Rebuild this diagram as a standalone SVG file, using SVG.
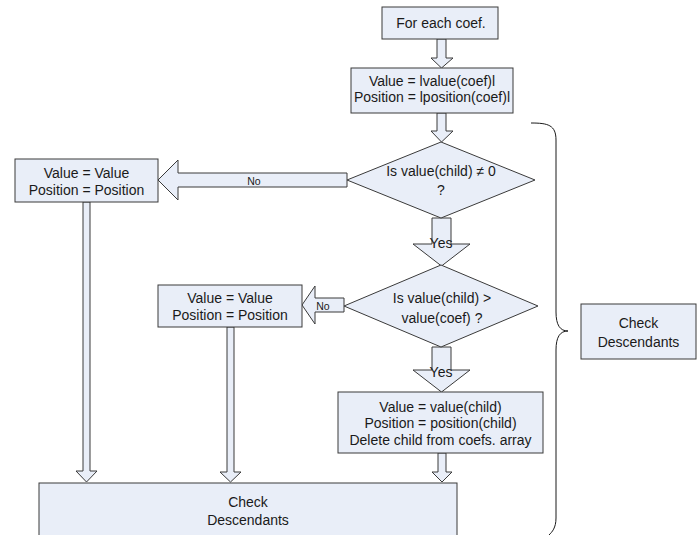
<svg xmlns="http://www.w3.org/2000/svg" width="699" height="535" viewBox="0 0 699 535">
<style>
.n{fill:#e9eef8;stroke:#3a3a3a;stroke-width:1}
.a{fill:#e9eef8;stroke:#3a3a3a;stroke-width:1;stroke-linejoin:miter}
text{font-family:"Liberation Sans",Arial,Helvetica,sans-serif;font-size:14px;fill:#1a1a1a;text-anchor:middle}
.s{font-size:10.5px}
.b{fill:none;stroke:#1a1a1a;stroke-width:1}
</style>
<rect width="699" height="535" fill="#ffffff"/>
<g id="connectors">
<polygon class="a" points="437,39 446,39 446,58 453,58 441.5,68 431,58 437,58"/>
<polygon class="a" points="437,113 446,113 446,131 453,131 441.5,142 431,131 437,131"/>
<polygon class="a" points="347,173 178,173 178,160 158,180 178,200 178,187 347,187"/>
<text class="s" x="254" y="185">No</text>
<polygon class="a" points="432,218 451,218 451,244 470,244 441.5,266 413,244 432,244"/>
<text x="441" y="248" font-size="13">Yes</text>
<polygon class="a" points="344,298 315,298 315,286 302,305 315,324 315,312 344,312"/>
<text class="s" x="323" y="310">No</text>
<polygon class="a" points="432,347 451,347 451,370 470,370 441.5,392 413,370 432,370"/>
<text x="441" y="377" font-size="13">Yes</text>
<polygon class="a" points="83,202 90,202 90,471 97,471 86.5,482 76,471 83,471"/>
<polygon class="a" points="227,327 234,327 234,472 241,472 230.5,482 220,472 227,472"/>
<polygon class="a" points="438,453 446,453 446,472 452,472 442,482 432,472 438,472"/>
</g>
<g id="start">
<rect class="n" x="382" y="7" width="116" height="32"/>
<text x="441" y="28">For each coef.</text>
</g>
<g id="init">
<rect class="n" x="351" y="68" width="162" height="45"/>
<text x="432" y="86">Value = lvalue(coef)l</text>
<text x="432" y="102">Position = lposition(coef)l</text>
</g>
<g id="decision1">
<polygon class="n" points="441,142 535,180 441,218 347,180"/>
<text x="441" y="176">Is value(child) ≠ 0</text>
<text x="441" y="195">?</text>
</g>
<g id="keep1">
<rect class="n" x="15" y="159" width="143" height="43"/>
<text x="86.5" y="178">Value = Value</text>
<text x="86.5" y="195">Position = Position</text>
</g>
<g id="decision2">
<polygon class="n" points="441,265 538,306 441,347 344,306"/>
<text x="442" y="303">Is value(child) &gt;</text>
<text x="442" y="323">value(coef) ?</text>
</g>
<g id="keep2">
<rect class="n" x="158" y="285" width="144" height="42"/>
<text x="230" y="303">Value = Value</text>
<text x="230" y="320">Position = Position</text>
</g>
<g id="update">
<rect class="n" x="338" y="392" width="205" height="61"/>
<text x="440.5" y="412">Value = value(child)</text>
<text x="440.5" y="428">Position = position(child)</text>
<text x="440.5" y="445">Delete child from coefs. array</text>
</g>
<g id="check">
<rect class="n" x="39" y="483" width="418" height="70"/>
<text x="248" y="507">Check</text>
<text x="248" y="525">Descendants</text>
</g>
<g id="brace">
<path class="b" d="M531,123 C548,123 556,125 556,140 L556,312 C556,325 560,331 568,331 C560,331 556,337 556,350 L556,518 C556,528 552,532 549,535"/>
</g>
<g id="check-label">
<rect class="n" x="581" y="304" width="115" height="55"/>
<text x="638.5" y="328">Check</text>
<text x="638.5" y="347">Descendants</text>
</g>
</svg>
